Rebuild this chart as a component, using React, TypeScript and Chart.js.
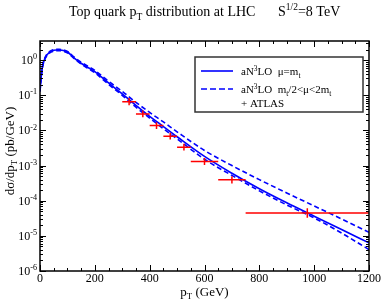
import { useEffect, useRef } from "react";
import { Chart, registerables } from "chart.js";
Chart.register(...registerables);

// theory curves (pb/GeV) vs pT (GeV)
const ptGrid = [0, 5, 10, 20, 30, 40, 50, 60, 70, 80, 90, 100, 125, 150, 175, 200, 250, 300, 350, 400, 450, 500, 600, 700, 800, 900, 1000, 1100, 1200];
const central = [0.132, 0.38, 0.708, 1.202, 1.549, 1.778, 1.905, 1.95, 1.95, 1.905, 1.82, 1.698, 1.148, 0.813, 0.617, 0.468, 0.224, 0.11, 0.0513, 0.0251, 0.0129, 0.00661, 0.00182, 0.000603, 0.000219, 0.0000871, 0.0000363, 0.0000151, 0.00000631];
const upper = [0.138, 0.398, 0.741, 1.259, 1.622, 1.862, 1.995, 2.042, 2.042, 1.995, 1.905, 1.778, 1.216, 0.871, 0.668, 0.513, 0.251, 0.129, 0.0631, 0.0324, 0.0174, 0.00912, 0.00269, 0.001, 0.000398, 0.000166, 0.0000708, 0.0000302, 0.0000126];
const lower = [0.126, 0.363, 0.676, 1.148, 1.479, 1.698, 1.82, 1.862, 1.862, 1.82, 1.738, 1.622, 1.096, 0.776, 0.582, 0.437, 0.204, 0.1, 0.0457, 0.0224, 0.0112, 0.00575, 0.00151, 0.000525, 0.000191, 0.0000759, 0.0000324, 0.000012, 0.00000407];

// ATLAS data
const atlasPt = [325, 375, 425, 475, 525, 600, 700, 975];
const atlasPtLo = [300, 350, 400, 450, 500, 550, 650, 750];
const atlasPtHi = [350, 400, 450, 500, 550, 650, 750, 1200];
const atlasVal = [0.0656, 0.0294, 0.0137, 0.00684, 0.00334, 0.0013, 0.000394, 0.0000447];
const atlasLo = [0.052, 0.0235, 0.011, 0.0055, 0.0027, 0.00104, 0.00031, 0.000033];
const atlasHi = [0.083, 0.037, 0.0172, 0.0086, 0.0042, 0.00163, 0.0005, 0.000061];

// axis ticks
const xMajor = [0, 200, 400, 600, 800, 1000, 1200];
const xMinorStep = 50;
const yExponents = [0, -1, -2, -3, -4, -5, -6];
const xMin = 0, xMax = 1200, yMin = 1e-6, yMax = 3.5;

const FONT = '"Liberation Serif", "Times New Roman", serif';
type Seg = [string, number];

function segFont(size: number, m: number) {
  const s = m === 0 ? size : size * 0.68;
  return `${s}px ${FONT}`;
}
function richWidth(ctx: CanvasRenderingContext2D, segs: Seg[], size: number) {
  let w = 0;
  for (const [t, m] of segs) {
    ctx.font = segFont(size, m);
    w += ctx.measureText(t).width;
  }
  return w;
}
function drawRich(ctx: CanvasRenderingContext2D, segs: Seg[], x: number, y: number, size: number, align: string) {
  const w = richWidth(ctx, segs, size);
  let cx = align === "left" ? x : align === "center" ? x - w / 2 : x - w;
  ctx.textAlign = "left";
  ctx.textBaseline = "alphabetic";
  for (const [t, m] of segs) {
    ctx.font = segFont(size, m);
    const dy = m === 1 ? -size * 0.4 : m === -1 ? size * 0.25 : 0;
    ctx.fillText(t, cx, y + dy);
    cx += ctx.measureText(t).width;
  }
}

const overlay = {
  id: "overlay",
  afterDatasetsDraw(chart: any) {
    const ctx: CanvasRenderingContext2D = chart.ctx;
    const xs = chart.scales.x;
    const ys = chart.scales.y;
    const a = chart.chartArea;
    ctx.save();

    // error bars
    ctx.strokeStyle = "#ff0000";
    ctx.lineWidth = 1.5;
    for (let i = 0; i < atlasPt.length; i++) {
      const xc = xs.getPixelForValue(atlasPt[i]);
      const yc = ys.getPixelForValue(atlasVal[i]);
      ctx.beginPath();
      ctx.moveTo(xs.getPixelForValue(atlasPtLo[i]), yc);
      ctx.lineTo(xs.getPixelForValue(atlasPtHi[i]), yc);
      ctx.moveTo(xc, ys.getPixelForValue(atlasLo[i]));
      ctx.lineTo(xc, ys.getPixelForValue(atlasHi[i]));
      ctx.stroke();
    }

    // frame
    ctx.strokeStyle = "#000";
    ctx.lineWidth = 1.5;
    ctx.strokeRect(a.left, a.top, a.right - a.left, a.bottom - a.top);

    // ticks
    ctx.lineWidth = 1;
    ctx.beginPath();
    for (let v = xMin; v <= xMax; v += xMinorStep) {
      const px = Math.round(xs.getPixelForValue(v)) + 0.5;
      const len = xMajor.includes(v) ? 6 : 3;
      ctx.moveTo(px, a.bottom);
      ctx.lineTo(px, a.bottom - len);
      ctx.moveTo(px, a.top);
      ctx.lineTo(px, a.top + len);
    }
    for (let e = -6; e <= 0; e++) {
      for (let k = 1; k <= 9; k++) {
        const v = k * Math.pow(10, e);
        if (v < yMin || v > yMax) continue;
        const py = Math.round(ys.getPixelForValue(v)) + 0.5;
        const len = k === 1 ? 6 : 3;
        ctx.moveTo(a.left, py);
        ctx.lineTo(a.left + len, py);
        ctx.moveTo(a.right, py);
        ctx.lineTo(a.right - len, py);
      }
    }
    ctx.stroke();

    ctx.fillStyle = "#000";
    // x tick labels
    for (const v of xMajor) {
      drawRich(ctx, [[String(v), 0]], xs.getPixelForValue(v), a.bottom + 11, 12, "center");
    }
    // y tick labels
    for (const e of yExponents) {
      const py = ys.getPixelForValue(Math.pow(10, e));
      drawRich(ctx, [["10", 0], [String(e), 1]], a.left - 3, py + 4, 12, "right");
    }

    // title
    drawRich(ctx, [["Top quark p", 0], ["T", -1], [" distribution at LHC", 0]], 69, 16, 14, "left");
    drawRich(ctx, [["S", 0], ["1/2", 1], ["=8 TeV", 0]], 278, 16, 14, "left");

    // axis titles
    drawRich(ctx, [["p", 0], ["T", -1], [" (GeV)", 0]], (a.left + a.right) / 2, 296, 13, "center");
    ctx.save();
    ctx.translate(14, 151);
    ctx.rotate(-Math.PI / 2);
    drawRich(ctx, [["d\u03c3/dp", 0], ["T", -1], [" (pb/GeV)", 0]], 0, 0, 13, "center");
    ctx.restore();

    // legend
    const lx = 195, ly = 57, lw = 168, lh = 55;
    ctx.fillStyle = "#fff";
    ctx.fillRect(lx, ly, lw, lh);
    ctx.strokeStyle = "#333";
    ctx.lineWidth = 1.5;
    ctx.strokeRect(lx, ly, lw, lh);
    ctx.strokeStyle = "#0000ff";
    ctx.lineWidth = 1.6;
    ctx.beginPath();
    ctx.moveTo(201, 71);
    ctx.lineTo(233, 71);
    ctx.stroke();
    ctx.setLineDash([6, 3]);
    ctx.beginPath();
    ctx.moveTo(201, 89);
    ctx.lineTo(233, 89);
    ctx.stroke();
    ctx.setLineDash([]);
    ctx.fillStyle = "#000";
    drawRich(ctx, [["aN", 0], ["3", 1], ["LO  \u03bc=m", 0], ["t", -1]], 241, 75, 11, "left");
    drawRich(ctx, [["aN", 0], ["3", 1], ["LO  m", 0], ["t", -1], ["/2<\u03bc<2m", 0], ["t", -1]], 241, 93, 11, "left");
    drawRich(ctx, [["+ ATLAS", 0]], 241, 107, 11, "left");

    ctx.restore();
  },
};

export default function App() {
  const ref = useRef<HTMLCanvasElement>(null);
  useEffect(() => {
    if (!ref.current) return;
    const mk = (ys: number[]) => ptGrid.map((x, i) => ({ x, y: ys[i] }));
    const chart = new Chart(ref.current, {
      type: "scatter",
      data: {
        datasets: [
          { label: "central", data: mk(central), showLine: true, borderColor: "#0000ff", borderWidth: 1.6, pointRadius: 0, cubicInterpolationMode: "monotone" },
          { label: "upper", data: mk(upper), showLine: true, borderColor: "#0000ff", borderWidth: 1.6, borderDash: [5, 3], pointRadius: 0, cubicInterpolationMode: "monotone" },
          { label: "lower", data: mk(lower), showLine: true, borderColor: "#0000ff", borderWidth: 1.6, borderDash: [5, 3], pointRadius: 0, cubicInterpolationMode: "monotone" },
          { label: "ATLAS", data: atlasPt.map((x, i) => ({ x, y: atlasVal[i] })), showLine: false, pointRadius: 0 },
        ],
      } as any,
      options: {
        animation: false,
        responsive: false,
        devicePixelRatio: 1,
        layout: { padding: { left: 40, top: 41, right: 13, bottom: 31 } },
        plugins: { legend: { display: false }, tooltip: { enabled: false }, title: { display: false } },
        scales: {
          x: { type: "linear", min: xMin, max: xMax, display: false },
          y: { type: "logarithmic", min: yMin, max: yMax, display: false },
        },
      } as any,
      plugins: [overlay],
    });
    return () => chart.destroy();
  }, []);
  return (
    <div style={{ position: "absolute", left: 0, top: 0, width: 382, height: 302, background: "#fff" }}>
      <canvas ref={ref} width={382} height={302} />
    </div>
  );
}
